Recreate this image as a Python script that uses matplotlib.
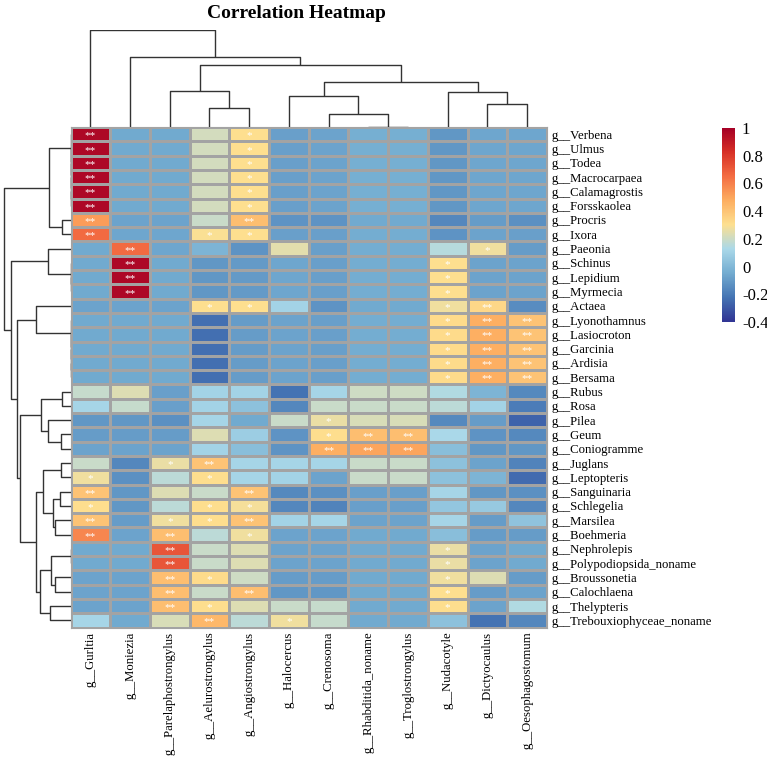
import numpy as np
import matplotlib
matplotlib.use('Agg')
import matplotlib.pyplot as plt
from matplotlib.colors import LinearSegmentedColormap

plt.rcParams['font.family'] = ['Liberation Serif', 'DejaVu Serif']

row_labels = ['g__Verbena', 'g__Ulmus', 'g__Todea', 'g__Macrocarpaea', 'g__Calamagrostis',
              'g__Forsskaolea', 'g__Procris', 'g__Ixora', 'g__Paeonia', 'g__Schinus',
              'g__Lepidium', 'g__Myrmecia', 'g__Actaea', 'g__Lyonothamnus', 'g__Lasiocroton',
              'g__Garcinia', 'g__Ardisia', 'g__Bersama', 'g__Rubus', 'g__Rosa', 'g__Pilea',
              'g__Geum', 'g__Coniogramme', 'g__Juglans', 'g__Leptopteris', 'g__Sanguinaria',
              'g__Schlegelia', 'g__Marsilea', 'g__Boehmeria', 'g__Nephrolepis',
              'g__Polypodiopsida_noname', 'g__Broussonetia', 'g__Calochlaena',
              'g__Thelypteris', 'g__Trebouxiophyceae_noname']

col_labels = ['g__Gurltia', 'g__Moniezia', 'g__Parelaphostrongylus', 'g__Aelurostrongylus',
              'g__Angiostrongylus', 'g__Halocercus', 'g__Crenosoma', 'g__Rhabditida_noname',
              'g__Troglostrongylus', 'g__Nudacotyle', 'g__Dictyocaulus', 'g__Oesophagostomum']

# correlation values, one list per row (same order as row_labels)
corr = [
    [0.97, -0.06, -0.06, 0.21, 0.30, -0.09, -0.08, -0.04, -0.04, -0.12, -0.07, -0.07],
    [0.97, -0.06, -0.06, 0.21, 0.30, -0.09, -0.08, -0.04, -0.04, -0.12, -0.07, -0.07],
    [0.97, -0.06, -0.06, 0.21, 0.30, -0.09, -0.08, -0.04, -0.04, -0.12, -0.07, -0.07],
    [0.97, -0.06, -0.06, 0.21, 0.30, -0.09, -0.08, -0.04, -0.04, -0.12, -0.07, -0.07],
    [0.97, -0.06, -0.06, 0.21, 0.30, -0.09, -0.08, -0.04, -0.04, -0.12, -0.07, -0.07],
    [0.97, -0.06, -0.06, 0.21, 0.30, -0.09, -0.08, -0.04, -0.04, -0.12, -0.07, -0.07],
    [0.52, -0.08, -0.08, 0.19, 0.42, -0.13, -0.13, -0.06, -0.06, -0.17, -0.10, -0.14],
    [0.66, -0.07, -0.07, 0.29, 0.30, -0.09, -0.09, -0.05, -0.05, -0.13, -0.08, -0.09],
    [-0.06, 0.66, -0.07, -0.02, -0.13, 0.24, -0.09, -0.05, -0.05, 0.15, 0.27, -0.10],
    [-0.06, 0.97, -0.06, -0.12, -0.11, -0.07, -0.09, -0.05, -0.05, 0.30, -0.08, -0.08],
    [-0.06, 0.97, -0.06, -0.12, -0.11, -0.07, -0.09, -0.05, -0.05, 0.30, -0.08, -0.08],
    [-0.06, 0.97, -0.06, -0.12, -0.11, -0.07, -0.09, -0.05, -0.05, 0.30, -0.08, -0.08],
    [-0.08, -0.08, -0.08, 0.30, 0.30, 0.10, -0.13, -0.06, -0.06, 0.27, 0.33, -0.15],
    [-0.06, -0.06, -0.06, -0.24, -0.10, -0.08, -0.09, -0.05, -0.05, 0.32, 0.47, 0.40],
    [-0.06, -0.06, -0.06, -0.24, -0.10, -0.08, -0.09, -0.05, -0.05, 0.32, 0.47, 0.40],
    [-0.06, -0.06, -0.06, -0.24, -0.10, -0.08, -0.09, -0.05, -0.05, 0.32, 0.47, 0.40],
    [-0.06, -0.06, -0.06, -0.24, -0.10, -0.08, -0.09, -0.05, -0.05, 0.32, 0.47, 0.40],
    [-0.06, -0.06, -0.06, -0.24, -0.10, -0.08, -0.09, -0.05, -0.05, 0.32, 0.47, 0.40],
    [0.18, 0.23, -0.09, 0.10, 0.10, -0.23, 0.11, 0.20, 0.20, 0.14, -0.02, -0.16],
    [0.11, 0.18, -0.09, 0.10, 0.03, -0.17, 0.19, 0.19, 0.19, 0.16, 0.10, -0.20],
    [-0.12, -0.12, -0.14, 0.11, -0.06, 0.19, 0.26, 0.22, 0.22, -0.16, -0.10, -0.27],
    [-0.10, -0.10, -0.10, 0.23, 0.08, -0.13, 0.31, 0.42, 0.42, 0.12, -0.13, -0.16],
    [-0.08, -0.08, -0.08, 0.10, 0.02, -0.13, 0.47, 0.50, 0.50, 0.02, -0.12, -0.12],
    [0.19, -0.17, 0.26, 0.40, 0.11, 0.11, 0.11, 0.19, 0.19, 0.03, -0.08, -0.18],
    [0.27, -0.14, 0.16, 0.31, 0.11, 0.10, -0.08, 0.19, 0.19, 0.03, -0.02, -0.25],
    [0.40, -0.12, 0.23, 0.19, 0.40, -0.16, -0.14, -0.09, -0.09, 0.11, -0.12, -0.14],
    [0.31, -0.12, 0.16, 0.31, 0.28, -0.17, -0.18, -0.09, -0.09, 0.05, 0.06, -0.17],
    [0.40, -0.10, 0.27, 0.31, 0.40, 0.10, 0.11, -0.08, -0.08, 0.11, -0.10, 0.04],
    [0.58, -0.08, 0.42, 0.16, 0.27, -0.08, -0.08, -0.06, -0.06, 0.02, -0.10, -0.10],
    [-0.06, -0.06, 0.72, 0.19, 0.23, -0.08, -0.08, -0.06, -0.06, 0.26, -0.08, -0.06],
    [-0.06, -0.06, 0.72, 0.19, 0.23, -0.08, -0.08, -0.06, -0.06, 0.26, -0.08, -0.06],
    [-0.08, -0.08, 0.42, 0.32, 0.20, -0.10, -0.10, -0.06, -0.06, 0.27, 0.23, -0.10],
    [-0.08, -0.08, 0.42, 0.19, 0.42, -0.12, -0.12, -0.06, -0.06, 0.30, -0.10, -0.08],
    [-0.08, -0.08, 0.42, 0.31, 0.23, 0.19, 0.18, -0.06, -0.06, 0.31, -0.08, 0.14],
    [0.11, -0.06, 0.22, 0.44, 0.16, 0.27, 0.18, -0.06, -0.06, 0.03, -0.23, -0.17],
]

# significance marks, same layout as corr
stars = [
    ['**', '', '', '', '*', '', '', '', '', '', '', ''],
    ['**', '', '', '', '*', '', '', '', '', '', '', ''],
    ['**', '', '', '', '*', '', '', '', '', '', '', ''],
    ['**', '', '', '', '*', '', '', '', '', '', '', ''],
    ['**', '', '', '', '*', '', '', '', '', '', '', ''],
    ['**', '', '', '', '*', '', '', '', '', '', '', ''],
    ['**', '', '', '', '**', '', '', '', '', '', '', ''],
    ['**', '', '', '*', '*', '', '', '', '', '', '', ''],
    ['', '**', '', '', '', '', '', '', '', '', '*', ''],
    ['', '**', '', '', '', '', '', '', '', '*', '', ''],
    ['', '**', '', '', '', '', '', '', '', '*', '', ''],
    ['', '**', '', '', '', '', '', '', '', '*', '', ''],
    ['', '', '', '*', '*', '', '', '', '', '*', '**', ''],
    ['', '', '', '', '', '', '', '', '', '*', '**', '**'],
    ['', '', '', '', '', '', '', '', '', '*', '**', '**'],
    ['', '', '', '', '', '', '', '', '', '*', '**', '**'],
    ['', '', '', '', '', '', '', '', '', '*', '**', '**'],
    ['', '', '', '', '', '', '', '', '', '*', '**', '**'],
    ['', '', '', '', '', '', '', '', '', '', '', ''],
    ['', '', '', '', '', '', '', '', '', '', '', ''],
    ['', '', '', '', '', '', '*', '', '', '', '', ''],
    ['', '', '', '', '', '', '*', '**', '**', '', '', ''],
    ['', '', '', '', '', '', '**', '**', '**', '', '', ''],
    ['', '', '*', '**', '', '', '', '', '', '', '', ''],
    ['*', '', '', '*', '', '', '', '', '', '', '', ''],
    ['**', '', '', '', '**', '', '', '', '', '', '', ''],
    ['*', '', '', '*', '*', '', '', '', '', '', '', ''],
    ['**', '', '*', '*', '**', '', '', '', '', '', '', ''],
    ['**', '', '**', '', '*', '', '', '', '', '', '', ''],
    ['', '', '**', '', '', '', '', '', '', '*', '', ''],
    ['', '', '**', '', '', '', '', '', '', '*', '', ''],
    ['', '', '**', '*', '', '', '', '', '', '*', '', ''],
    ['', '', '**', '', '**', '', '', '', '', '*', '', ''],
    ['', '', '**', '*', '', '', '', '', '', '*', '', ''],
    ['', '', '', '**', '', '*', '', '', '', '', '', ''],
]

# hierarchical clustering trees: (left child, right child, merge height)
# leaves are 0..n-1 in display order, merged node k gets id n+k
row_merges = [
    (4, 5, 0), (3, 35, 0), (2, 36, 0), (1, 37, 0), (0, 38, 0),
    (6, 7, 8.7), (39, 40, 21.7),
    (10, 11, 0), (9, 42, 0), (8, 43, 22.7),
    (16, 17, 0), (15, 45, 0), (14, 46, 0), (13, 47, 0), (12, 48, 35),
    (18, 19, 8.7), (21, 22, 10), (20, 51, 22.7), (50, 52, 29.3),
    (23, 24, 9.3), (25, 26, 10.3), (27, 28, 16), (55, 56, 17.7), (54, 57, 27.7),
    (29, 30, 0), (31, 32, 16), (59, 60, 19.3), (33, 34, 21), (61, 62, 31),
    (58, 63, 35), (53, 64, 51), (49, 65, 53.7), (44, 66, 59.3), (41, 67, 67),
]
col_merges = [
    (7, 8, 0), (6, 12, 28), (5, 13, 65), (10, 11, 48), (9, 15, 73), (14, 16, 94),
    (3, 4, 40), (2, 18, 76), (19, 17, 130), (1, 20, 148), (0, 21, 203),
]


def dendro_segments(merges, n):
    pos = {i: i + 0.5 for i in range(n)}
    hgt = {i: 0.0 for i in range(n)}
    segs = []
    for k, (a, b, h) in enumerate(merges):
        segs.append(([pos[a], pos[a], pos[b], pos[b]], [hgt[a], h, h, hgt[b]]))
        pos[n + k] = (pos[a] + pos[b]) / 2
        hgt[n + k] = h
    return segs


W, H = 767, 757
fig = plt.figure(figsize=(W / 100, H / 100), dpi=100)


def px_axes(x0, y0, x1, y1):
    return fig.add_axes([x0 / W, 1 - y1 / H, (x1 - x0) / W, (y1 - y0) / H])


cmap = LinearSegmentedColormap.from_list('corr', ['#313695', '#4575B4', '#74ADD1', '#ABD9E9',
                                                  '#FEE090', '#FDAE61', '#F46D43', '#D73027',
                                                  '#A50026'])
vmin, vmax = -0.4, 1.0

data = np.array(corr)
nr, nc = data.shape

hx0, hx1, hy0, hy1 = 70.5, 547, 127, 627.5

# heatmap
ax = px_axes(hx0, hy0, hx1, hy1)
ax.pcolormesh(np.arange(nc + 1), np.arange(nr + 1), data, cmap=cmap, vmin=vmin, vmax=vmax,
              edgecolors='#a3a3a3', linewidth=0.8)
for i in range(nr):
    for j in range(nc):
        if stars[i][j]:
            ax.text(j + 0.5, i + 0.62, stars[i][j], ha='center', va='center',
                    color='white', fontsize=8)
ax.set_xlim(0, nc)
ax.set_ylim(nr, 0)
ax.set_xticks(np.arange(nc) + 0.5)
ax.set_xticklabels(col_labels, rotation=90, fontsize=9.2)
ax.set_yticks(np.arange(nr) + 0.5)
ax.set_yticklabels(row_labels, fontsize=9.2)
ax.yaxis.tick_right()
ax.tick_params(length=0, pad=3)
for s in ax.spines.values():
    s.set_color('#a3a3a3')
    s.set_linewidth(0.8)

# row dendrogram
axr = px_axes(0, hy0, hx0, hy1)
for xs, ys in dendro_segments(row_merges, nr):
    axr.plot(ys, xs, color='#333333', lw=1.0, solid_capstyle='butt')
axr.set_xlim(hx0, 0)
axr.set_ylim(nr, 0)
axr.axis('off')

# column dendrogram
axc = px_axes(hx0, 30, hx1, hy0)
for xs, ys in dendro_segments(col_merges, nc):
    axc.plot(xs, ys, color='#333333', lw=1.0, solid_capstyle='butt')
axc.set_xlim(0, nc)
axc.set_ylim(0, 204)
axc.axis('off')

# colour legend
axb = px_axes(722, 128, 735, 322)
axb.imshow(np.linspace(vmax, vmin, 200)[:, None], aspect='auto', cmap=cmap,
           vmin=vmin, vmax=vmax, extent=[0, 1, vmin, vmax])
axb.set_xticks([])
axb.yaxis.tick_right()
axb.set_yticks([1, 0.8, 0.6, 0.4, 0.2, 0, -0.2, -0.4])
axb.set_yticklabels(['1', '0.8', '0.6', '0.4', '0.2', '0', '-0.2', '-0.4'], fontsize=12)
axb.tick_params(length=0, pad=5)
for s in axb.spines.values():
    s.set_visible(False)

fig.text(296 / W, 1 - 13 / H, 'Correlation Heatmap', ha='center', va='center',
         fontsize=14, fontweight='bold')

fig.savefig('out.png', dpi=100)
